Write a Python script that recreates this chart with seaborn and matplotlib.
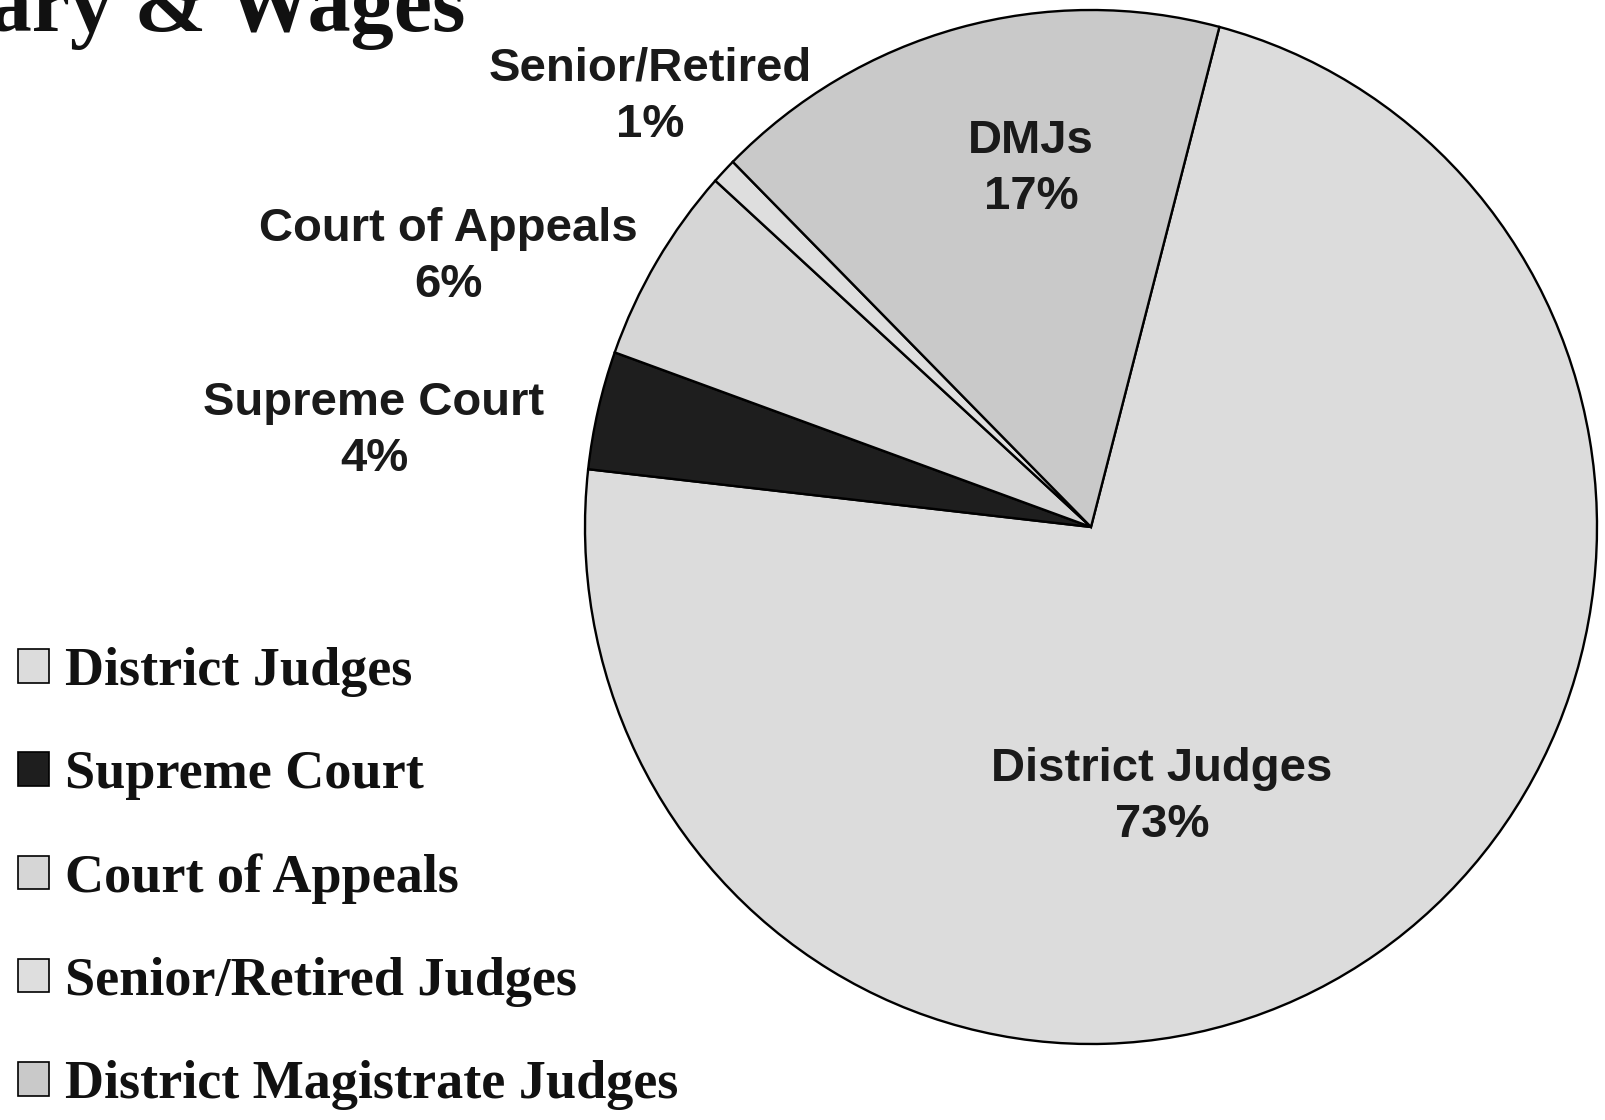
import matplotlib
matplotlib.use("Agg")
import matplotlib.pyplot as plt
import seaborn as sns

# slice data, clockwise from the DMJs / District Judges boundary
categories = ["District Judges", "Supreme Court", "Court of Appeals",
              "Senior/Retired Judges", "District Magistrate Judges"]
short_names = ["District Judges", "Supreme Court", "Court of Appeals",
               "Senior/Retired", "DMJs"]
shares = [72.7, 3.7, 6.2, 0.8, 16.6]
colors = ["#dcdcdc", "#1e1e1e", "#d6d6d6", "#dedede", "#c9c9c9"]

sns.set_theme(style="white")
plt.rcParams["font.family"] = ["Liberation Sans", "DejaVu Sans"]

W, H = 1606, 1120
fig = plt.figure(figsize=(W / 100, H / 100), dpi=100)
fig.patch.set_facecolor("white")

# pie axes, centre around (1091, 527) px, radius ~506 x 517 px
cx, cy, rx, ry = 1091, 527, 506, 517
ax = fig.add_axes([(cx - 1.1 * rx) / W, (H - cy - 1.1 * ry) / H,
                   2.2 * rx / W, 2.2 * ry / H])
wedges, _ = ax.pie(shares, colors=colors, startangle=75.3, counterclock=False,
                   wedgeprops=dict(edgecolor="black", linewidth=1.7))
ax.set_aspect("auto")
ax.set_xlim(-1.1, 1.1)
ax.set_ylim(-1.1, 1.1)
ax.axis("off")

# slice labels (pixel positions of each label block centre)
label_pos = [(1162, 797), (374, 431), (448, 257), (650, 97), (1031, 169)]
for name, v, (px, py) in zip(short_names, shares, label_pos):
    fig.text(px / W, 1 - py / H, f"{name}\n{v:.0f}%", ha="center", va="center",
             fontsize=34, fontweight="bold", color="#1a1a1a", linespacing=1.38)

# cut-off title at the top left
fig.text(466 / W, 1 - 31 / H, "Salary & Wages", ha="right", va="baseline",
         fontsize=62, fontweight="bold", family=["Liberation Serif", "DejaVu Serif"],
         color="#111111")

leg = fig.legend(wedges, categories, loc="upper left", bbox_to_anchor=(18 / W, 1 - 647 / H),
                 frameon=False, borderpad=0, borderaxespad=0,
                 handlelength=0.57, handleheight=0.57, handletextpad=0.3,
                 labelspacing=0.98, labelcolor="#111111",
                 prop=dict(family=["Liberation Serif", "DejaVu Serif"], weight="bold", size=39))
for h in leg.legend_handles:
    h.set_linewidth(1.2)

fig.savefig("out.png", dpi=100, facecolor="white")
